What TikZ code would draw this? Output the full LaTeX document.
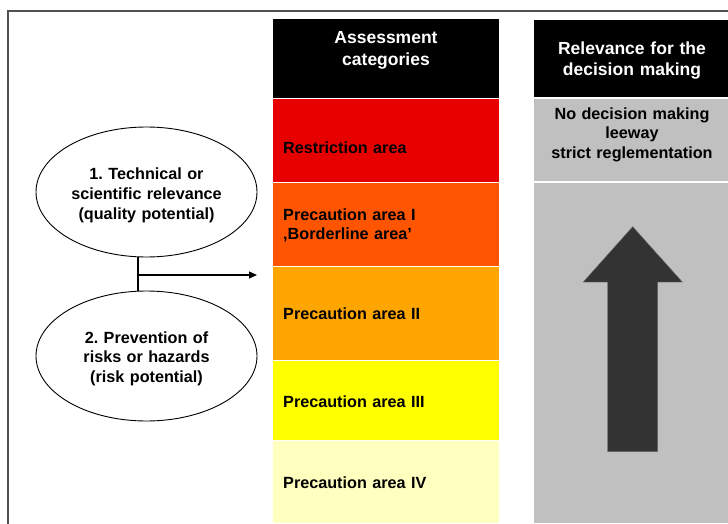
\documentclass[tikz,border=0pt]{standalone}
\usepackage{fontspec}
\setmainfont{Liberation Sans}
\usetikzlibrary{arrows.meta,shapes.geometric}
\frenchspacing
\definecolor{cred}{HTML}{E60000}
\definecolor{corangeA}{HTML}{FF5500}
\definecolor{corangeB}{HTML}{FFA500}
\definecolor{cyellow}{HTML}{FFFF00}
\definecolor{clight}{HTML}{FFFFC0}
\definecolor{cgray}{HTML}{C0C0C0}
\definecolor{cdark}{HTML}{333333}
\definecolor{cframe}{HTML}{505050}
\tikzset{
  hdrtext/.style={font=\bfseries\fontsize{17.5}{21.3}\selectfont, text=white, align=center, inner sep=0pt, text width=220pt, anchor=base},
  bodytext/.style={font=\bfseries\fontsize{16.2}{19.6}\selectfont, text=black, inner sep=0pt},
  lbltext/.style={bodytext, anchor=base west, align=left, text width=200pt},
  ctrtext/.style={bodytext, anchor=base, align=center, text width=220pt},
  oval/.style={draw=black, line width=0.9pt, ellipse, minimum width=221pt, minimum height=130pt, inner sep=0pt},
  conn/.style={draw=black, line width=1.2pt},
}
\begin{document}
\begin{tikzpicture}[x=1pt,y=-1pt]
\useasboundingbox (0,0) rectangle (728,524);
% frame
\draw[cframe, line width=1.3pt] (8,525) -- (8,11) -- (729,11);
% left column
\fill[black]    (273,19)    rectangle (499,98);
\fill[cred]     (273,99.5)  rectangle (499,181.5);
\fill[corangeA] (273,183)   rectangle (499,265.5);
\fill[corangeB] (273,267)   rectangle (499,359.5);
\fill[cyellow]  (273,361)   rectangle (499,439.5);
\fill[clight]   (273,440.5) rectangle (499,523);
% right column
\fill[black]    (534,20)    rectangle (731,97.5);
\fill[cgray]    (534,99)    rectangle (731,181);
\fill[cgray]    (534,183)   rectangle (731,523);
% big arrow
\filldraw[fill=cdark, draw=gray!80!black, line width=0.4pt]
  (632.7,226.7) -- (682.3,282) -- (657.7,282) -- (657.7,451.7)
  -- (607.7,451.7) -- (607.7,282) -- (583.3,282) -- cycle;
% headers
\node[hdrtext] (h1) at (386,44) {Assessment\\categories};
\node[hdrtext, font=\bfseries\fontsize{17.5}{21}\selectfont] (h2) at (632,55) {Relevance for the\\decision making};
% category labels
\node[lbltext] (c1) at (283,153.3) {Restriction area};
\node[lbltext] (c2) at (283,220) {Precaution area I\\,Borderline area’};
\node[lbltext] (c3) at (283,319) {Precaution area II};
\node[lbltext] (c4) at (283,407) {Precaution area III};
\node[lbltext] (c5) at (283,488.3) {Precaution area IV};
% decision text
\node[ctrtext, font=\bfseries\fontsize{16.2}{19.5}\selectfont] (d1) at (632,119.3) {No decision making\\leeway\\strict reglementation};
% ellipses
\node[oval] (e1) at (146.5,192) {};
\node[oval] (e2) at (146.5,356) {};
\node[ctrtext, font=\bfseries\fontsize{16.2}{20}\selectfont] (t1) at (146.5,179) {1. Technical or\\scientific relevance\\(quality potential)};
\node[ctrtext] (t2) at (146.5,343.3) {2. Prevention of\\risks or hazards\\(risk potential)};
% connector
\coordinate (j) at (138,275);
\coordinate (tip) at (257,275);
\draw[conn] (e1.south -| j) -- (e2.north -| j);
\draw[conn, -{Triangle[length=8pt,width=7pt]}] (j) -- (tip);
\end{tikzpicture}
\end{document}
